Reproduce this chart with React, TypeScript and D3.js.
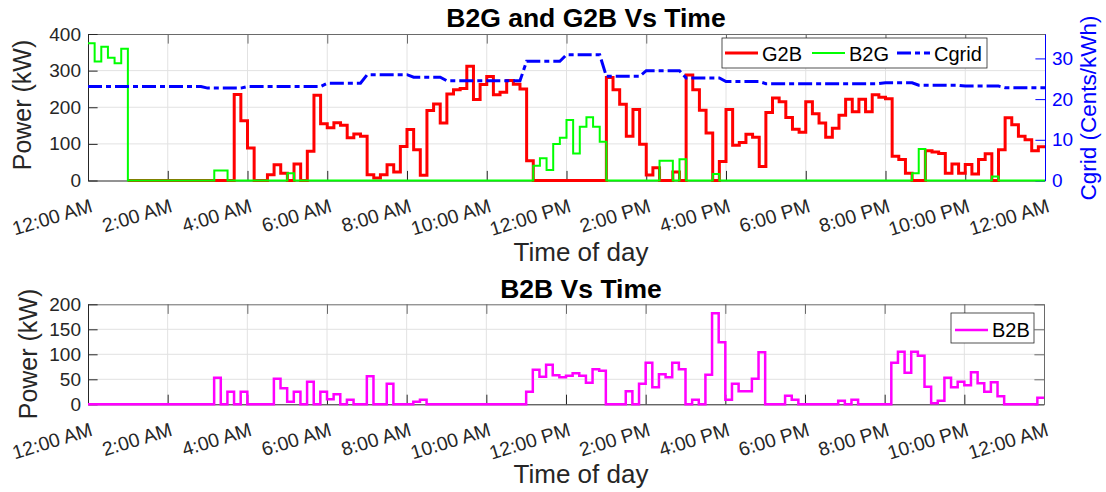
import React, { useRef, useEffect } from 'react';
import * as d3 from 'd3';

const width = 1106, height = 492;

// one day in 10-minute steps (144 steps), tick every 2 hours
const timeLabels = ['12:00 AM', '2:00 AM', '4:00 AM', '6:00 AM', '8:00 AM', '10:00 AM', '12:00 PM',
  '2:00 PM', '4:00 PM', '6:00 PM', '8:00 PM', '10:00 PM', '12:00 AM'];
const powerTicksTop = [0, 100, 200, 300, 400];
const cgridTicks = [0, 10, 20, 30];
const powerTicksBottom = [0, 50, 100, 150, 200];

// G2B (kW), no value in the first hour
const g2b: (number | null)[] = [
  null, null, null, null, null, null, 0, 0, 0, 0, 0, 0, 0, 0, 0, 0, 0, 0, 0, 0, 0, 0,
  235, 163, 89, 0, 0, 16, 43, 20, 0, 45,
  0, 80, 233, 155, 144, 158, 151, 117, 127, 121,
  16, 7, 16, 43, 23, 93, 139, 84, 14, 191,
  209, 157, 236, 248, 251, 312, 221, 262, 284, 234,
  241, 273, 263, 250, 54, 0, 0, 0, 0, 0,
  0, 0, 0, 0, 0, 0, 281, 248, 208, 121,
  194, 99, 15, 35, 0, 0, 23, 0, 288, 248,
  192, 130, 0, 52, 194, 96, 104, 126, 118, 38,
  186, 225, 215, 172, 140, 132, 215, 182, 157, 118,
  143, 178, 222, 188, 222, 188, 234, 227, 223, 66,
  57, 20, 0, 0, 81, 78, 74, 20, 45, 20,
  44, 18, 57, 73, 0, 84, 171, 152, 121, 111,
  81, 92,
];

// B2G (kW)
const b2g = [
  375, 325, 365, 335, 320, 360, 0, 0, 0, 0,
  0, 0, 0, 0, 0, 0, 0, 0, 0, 27,
  27, 0, 0, 0, 0, 0, 0, 0, 0, 0,
  20, 0, 0, 0, 0, 0, 0, 0, 0, 0,
  0, 0, 0, 0, 0, 0, 0, 0, 0, 0,
  0, 0, 0, 0, 0, 0, 0, 0, 0, 0,
  0, 0, 0, 0, 0, 0, 0, 40, 61, 29,
  100, 117, 165, 74, 147, 173, 147, 106, 0, 0,
  0, 0, 0, 0, 0, 0, 54, 54, 0, 58,
  0, 0, 0, 0, 18, 0, 0, 0, 0, 0,
  0, 0, 0, 0, 0, 0, 0, 0, 0, 0,
  0, 0, 0, 0, 0, 0, 0, 0, 0, 0,
  0, 0, 0, 0, 20, 86, 0, 0, 0, 0,
  0, 0, 0, 0, 0, 0, 11, 0, 0, 0,
  0, 0, 0, 0,
];

// B2B (kW)
const b2b = [
  0, 0, 0, 0, 0, 0, 0, 0, 0, 0,
  0, 0, 0, 0, 0, 0, 0, 0, 0, 53,
  0, 25, 0, 25, 0, 0, 0, 0, 51, 32,
  5, 25, 0, 45, 0, 25, 10, 20, 0, 9,
  0, 0, 56, 0, 0, 41, 0, 0, 0, 5,
  9, 0, 0, 0, 0, 0, 0, 0, 0, 0,
  0, 0, 0, 0, 0, 0, 25, 69, 55, 79,
  58, 54, 57, 62, 57, 43, 70, 67, 0, 0,
  0, 26, 0, 41, 83, 34, 60, 54, 83, 70,
  0, 9, 0, 59, 182, 124, 9, 41, 26, 26,
  51, 104, 0, 0, 0, 17, 9, 0, 0, 0,
  0, 0, 0, 7, 0, 9, 0, 0, 0, 0,
  0, 83, 105, 63, 105, 97, 35, 2, 7, 53,
  34, 45, 38, 64, 42, 25, 44, 16, 0, 0,
  0, 0, 0, 13,
];

// Cgrid (Cents/kWh), 145 points
const cgrid = [
  23.1, 23.1, 23.1, 23.1, 23.1, 23.1, 23.1, 23.1, 23.1, 23.1,
  23.1, 23.1, 23.1, 23.1, 23.1, 23.1, 23.1, 23.1, 22.7, 22.7,
  22.7, 22.7, 22.7, 22.7, 23.1, 23.1, 23.1, 23.1, 23.1, 23.1,
  23.1, 23.1, 23.1, 23.1, 23.1, 23.1, 23.9, 23.9, 23.9, 23.9,
  23.9, 23.9, 26.0, 26.0, 26.0, 26.0, 26.0, 26.0, 26.0, 25.4,
  25.4, 25.4, 25.4, 25.4, 24.5, 24.5, 24.5, 24.5, 24.5, 24.5,
  24.5, 24.5, 24.5, 24.5, 24.5, 24.5, 29.3, 29.3, 29.3, 29.3,
  29.3, 29.3, 30.9, 30.9, 30.9, 30.9, 30.9, 30.9, 25.6, 25.6,
  25.6, 25.6, 25.6, 25.6, 27.0, 27.0, 27.0, 27.0, 27.0, 27.0,
  25.2, 25.2, 25.2, 25.2, 25.2, 25.2, 24.3, 24.3, 24.3, 24.3,
  24.3, 24.3, 23.8, 23.8, 23.8, 23.8, 23.8, 23.8, 23.8, 23.8,
  23.8, 23.8, 23.8, 23.8, 23.8, 23.8, 23.8, 23.8, 23.8, 23.8,
  24.0, 24.0, 24.0, 24.0, 24.0, 23.4, 23.4, 23.4, 23.4, 23.4,
  23.4, 23.4, 23.2, 23.2, 23.2, 23.2, 23.2, 23.2, 22.8, 22.8,
  22.8, 22.8, 22.8, 22.8, 22.8,
];

const FONT = '"Liberation Sans", Arial, Helvetica, sans-serif';
const AXIS = '#262626';
const GRID = '#e2e2e2';
const TICK = 9.6;

function stairs(vals: (number | null)[]): [number, number | null][] {
  const pts = vals.map((v, i) => [i, v] as [number, number | null]);
  pts.push([vals.length, vals[vals.length - 1]]);
  return pts;
}

function frame(svg: any, box: any, x: any, y: any, yTicks: number[], mirrorRight: boolean) {
  const tickPos = timeLabels.map((_, i) => i * 12);

  const grid = svg.append('g');
  grid.selectAll('line.v').data(tickPos.slice(1, -1)).join('line').attr('class', 'v')
    .attr('x1', (d: number) => x(d)).attr('x2', (d: number) => x(d))
    .attr('y1', box.t).attr('y2', box.b)
    .attr('stroke', GRID).attr('stroke-width', 1);
  grid.selectAll('line.h').data(yTicks.slice(1, -1)).join('line').attr('class', 'h')
    .attr('x1', box.l).attr('x2', box.r)
    .attr('y1', (d: number) => y(d)).attr('y2', (d: number) => y(d))
    .attr('stroke', GRID).attr('stroke-width', 1);

  const xb = svg.append('g').attr('transform', `translate(0,${box.b})`)
    .call(d3.axisBottom(x).tickValues(tickPos).tickSize(-TICK).tickSizeOuter(0)
      .tickFormat((d: any, i: number) => timeLabels[i]));
  xb.attr('font-size', 19.5).attr('font-family', FONT).attr('color', AXIS);
  xb.selectAll('text').attr('y', null).attr('dy', null).attr('text-anchor', 'end')
    .attr('transform', 'translate(5,31) rotate(-17)');

  const xt = svg.append('g').attr('transform', `translate(0,${box.t})`)
    .call(d3.axisTop(x).tickValues(tickPos).tickSize(-TICK).tickSizeOuter(0).tickFormat(() => ''));
  xt.attr('color', '#6a6a6a');

  const yl = svg.append('g').attr('transform', `translate(${box.l},0)`)
    .call(d3.axisLeft(y).tickValues(yTicks).tickSize(-TICK).tickSizeOuter(0).tickPadding(7));
  yl.attr('font-size', 19).attr('font-family', FONT).attr('color', AXIS);

  if (mirrorRight) {
    const yr = svg.append('g').attr('transform', `translate(${box.r},0)`)
      .call(d3.axisRight(y).tickValues(yTicks).tickSize(-TICK).tickSizeOuter(0).tickFormat(() => ''));
    yr.attr('color', '#6a6a6a');
  }
}

export default function App() {
  const chartRef = useRef<SVGSVGElement>(null);

  useEffect(() => {
    const svg = d3.select(chartRef.current);
    svg.selectAll('*').remove();

    // ---------- top: B2G and G2B ----------
    const top = { l: 88, r: 1045, t: 34, b: 180.5 };
    const x1 = d3.scaleLinear().domain([0, 144]).range([top.l, top.r]);
    const y1 = d3.scaleLinear().domain([0, 400]).range([top.b, top.t]);
    const y1r = d3.scaleLinear().domain([0, 36]).range([top.b, top.t]);

    frame(svg, top, x1, y1, powerTicksTop, false);

    const yr = svg.append('g').attr('transform', `translate(${top.r},0)`)
      .call(d3.axisRight(y1r).tickValues(cgridTicks).tickSize(-TICK).tickSizeOuter(0).tickPadding(7));
    yr.attr('font-size', 19).attr('font-family', FONT).attr('color', '#0000ff');

    const step1 = d3.line<[number, number | null]>()
      .defined(d => d[1] !== null)
      .x(d => x1(d[0])).y(d => y1(d[1] as number)).curve(d3.curveStepAfter);
    svg.append('path').attr('d', step1(stairs(g2b))).attr('fill', 'none')
      .attr('stroke', '#ff0000').attr('stroke-width', 3);
    svg.append('path').attr('d', step1(stairs(b2g))).attr('fill', 'none')
      .attr('stroke', '#00ff00').attr('stroke-width', 2);
    const cline = d3.line<number>().x((d, i) => x1(i)).y(d => y1r(d));
    svg.append('path').attr('d', cline(cgrid)).attr('fill', 'none')
      .attr('stroke', '#0000ff').attr('stroke-width', 3).attr('stroke-dasharray', '14,4,5,4');

    // legend
    const lg = svg.append('g').attr('font-family', FONT).attr('font-size', 20);
    lg.append('rect').attr('x', 722).attr('y', 38).attr('width', 265).attr('height', 30)
      .attr('fill', '#fff').attr('stroke', '#262626').attr('stroke-width', 0.8);
    const items = [
      { label: 'G2B', color: '#ff0000', w: 3, dash: null, x: 725 },
      { label: 'B2G', color: '#00ff00', w: 2, dash: null, x: 812 },
      { label: 'Cgrid', color: '#0000ff', w: 3, dash: '14,4,5,4', x: 897 },
    ];
    items.forEach(it => {
      lg.append('line').attr('x1', it.x).attr('x2', it.x + 33).attr('y1', 53).attr('y2', 53)
        .attr('stroke', it.color).attr('stroke-width', it.w).attr('stroke-dasharray', it.dash);
      lg.append('text').attr('x', it.x + 37).attr('y', 60.5).attr('fill', '#000').text(it.label);
    });

    svg.append('text').attr('x', 586).attr('y', 27).attr('text-anchor', 'middle')
      .attr('font-family', FONT).attr('font-size', 26.5).attr('font-weight', 'bold').attr('fill', '#000')
      .text('B2G and G2B Vs Time');
    svg.append('text').attr('x', 581).attr('y', 261).attr('text-anchor', 'middle')
      .attr('font-family', FONT).attr('font-size', 26).attr('fill', AXIS).text('Time of day');
    svg.append('text').attr('transform', 'translate(31,105) rotate(-90)').attr('text-anchor', 'middle')
      .attr('font-family', FONT).attr('font-size', 25).attr('fill', AXIS).text('Power (kW)');
    svg.append('text').attr('transform', 'translate(1096,108) rotate(-90)').attr('text-anchor', 'middle')
      .attr('font-family', FONT).attr('font-size', 22.5).attr('fill', '#0000ff').text('Cgrid (Cents/kWh)');

    // ---------- bottom: B2B ----------
    const bot = { l: 88, r: 1044, t: 304.3, b: 404.3 };
    const x2 = d3.scaleLinear().domain([0, 144]).range([bot.l, bot.r]);
    const y2 = d3.scaleLinear().domain([0, 200]).range([bot.b, bot.t]);

    frame(svg, bot, x2, y2, powerTicksBottom, true);

    const step2 = d3.line<[number, number | null]>()
      .x(d => x2(d[0])).y(d => y2(d[1] as number)).curve(d3.curveStepAfter);
    svg.append('path').attr('d', step2(stairs(b2b))).attr('fill', 'none')
      .attr('stroke', '#ff00ff').attr('stroke-width', 2.5);

    const lg2 = svg.append('g').attr('font-family', FONT).attr('font-size', 20);
    lg2.append('rect').attr('x', 951).attr('y', 313).attr('width', 83).attr('height', 30)
      .attr('fill', '#fff').attr('stroke', '#262626').attr('stroke-width', 0.8);
    lg2.append('line').attr('x1', 955).attr('x2', 988).attr('y1', 330).attr('y2', 330)
      .attr('stroke', '#ff00ff').attr('stroke-width', 2.5);
    lg2.append('text').attr('x', 992).attr('y', 337).attr('fill', '#000').text('B2B');

    svg.append('text').attr('x', 581).attr('y', 298).attr('text-anchor', 'middle')
      .attr('font-family', FONT).attr('font-size', 26.5).attr('font-weight', 'bold').attr('fill', '#000')
      .text('B2B Vs Time');
    svg.append('text').attr('x', 581).attr('y', 483).attr('text-anchor', 'middle')
      .attr('font-family', FONT).attr('font-size', 26).attr('fill', AXIS).text('Time of day');
    svg.append('text').attr('transform', 'translate(37,354) rotate(-90)').attr('text-anchor', 'middle')
      .attr('font-family', FONT).attr('font-size', 25).attr('fill', AXIS).text('Power (kW)');
  }, []);

  return (
    <svg ref={chartRef} width={width} height={height}
      style={{ position: 'absolute', left: 0, top: 0, background: '#fff' }} />
  );
}
